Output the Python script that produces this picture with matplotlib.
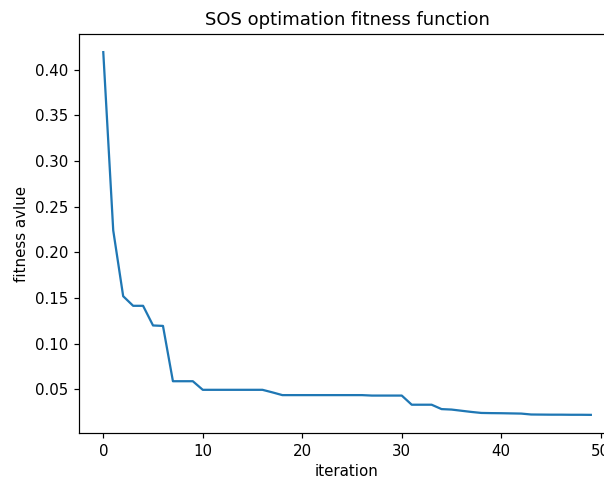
import numpy as np
import matplotlib
matplotlib.use('Agg')
import matplotlib.pyplot as plt

# best fitness value per iteration
fitness = [0.419, 0.224, 0.152, 0.1415, 0.1415, 0.1200, 0.1195, 0.0590, 0.0590, 0.0590,
           0.0496, 0.0496, 0.0496, 0.0496, 0.0496, 0.0496, 0.0496, 0.0468, 0.0438, 0.0438,
           0.0438, 0.0438, 0.0438, 0.0438, 0.0438, 0.0438, 0.0438, 0.0433, 0.0433, 0.0433,
           0.0433, 0.0333, 0.0333, 0.0333, 0.0285, 0.0280, 0.0267, 0.0254, 0.0243, 0.0241,
           0.0240, 0.0238, 0.0236, 0.0226, 0.0225, 0.0224, 0.0224, 0.0223, 0.0223, 0.0222]
iterations = np.arange(len(fitness))

dpi = 108
fig = plt.figure(figsize=(604 / dpi, 479 / dpi), dpi=dpi)
ax = fig.add_axes([78.9 / 604, 46 / 479, 536.3 / 604, 399 / 479])

ax.plot(iterations, fitness)
ax.set_title('SOS optimation fitness function')
ax.set_xlabel('iteration')
ax.set_ylabel('fitness avlue')

fig.savefig('out.png', dpi=dpi)
